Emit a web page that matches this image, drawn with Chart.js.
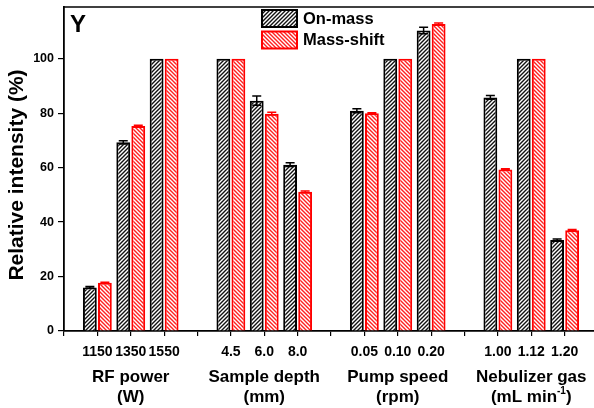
<!DOCTYPE html>
<html>
<head>
<meta charset="utf-8">
<script src="https://cdn.jsdelivr.net/npm/chart.js@4.4.1/dist/chart.umd.min.js"></script>
<style>
  html, body { margin: 0; padding: 0; background: #fff; overflow: hidden; }
  #wrap { width: 600px; height: 408px; }
</style>
</head>
<body>
<div id="wrap"><canvas id="c" width="600" height="408"></canvas></div>
<script>
// Categories (blank slots separate the parameter groups)
const categories = ['', '1150', '1350', '1550', '', '4.5', '6.0', '8.0', '', '0.05', '0.10', '0.20', '', '1.00', '1.12', '1.20', ''];

// Relative intensity (%) per setting
const onMass      = [null, 16.0, 69.3, 100, null, 100, 84.6, 61.1, null, 80.9, 100, 110.4, null, 85.8, 100, 33.4, null];
const massShift   = [null, 17.7, 75.3, 100, null, 100, 79.8, 51.1, null, 80.0, 100, 112.8, null, 59.3, 100, 37.0, null];
const onMassErr   = [null, 0.3, 0.6, 0, null, 0, 1.7, 0.7, null, 0.7, 0, 1.2, null, 0.7, 0, 0.4, null];
const massShiftErr= [null, 0.2, 0.3, 0, null, 0, 0.5, 0.3, null, 0.2, 0, 0.3, null, 0.3, 0, 0.3, null];

// Parameter groups: label lines and the category index they are centred on
const groupNames  = ['RF power', 'Sample depth', 'Pump speed', 'Nebulizer gas'];
const groupUnits  = ['(W)', '(mm)', '(rpm)', '(mL min'];
const groupCenter = [2, 6, 10, 14];

const yTicks = [0, 20, 40, 60, 80, 100];
const yTitle = 'Relative intensity (%)';

function hatch(color, forward) {
  const s = 4;
  const c = document.createElement('canvas');
  c.width = s; c.height = s;
  const g = c.getContext('2d');
  g.fillStyle = '#fff';
  g.fillRect(0, 0, s, s);
  g.strokeStyle = color;
  g.lineWidth = 1.4;
  g.beginPath();
  if (forward) {
    g.moveTo(-1, s + 1); g.lineTo(s + 1, -1);
    g.moveTo(-1, 1); g.lineTo(1, -1);
    g.moveTo(s - 1, s + 1); g.lineTo(s + 1, s - 1);
  } else {
    g.moveTo(-1, -1); g.lineTo(s + 1, s + 1);
    g.moveTo(s - 1, -1); g.lineTo(s + 1, 1);
    g.moveTo(-1, s - 1); g.lineTo(1, s + 1);
  }
  g.stroke();
  return document.getElementById('c').getContext('2d').createPattern(c, 'repeat');
}

const blackHatch = hatch('#111', true);
const redHatch = hatch('#ff2020', false);

const FONT = '"Liberation Sans", Arial, sans-serif';

const decorations = {
  id: 'decorations',
  afterDatasetsDraw(chart) {
    const ctx = chart.ctx;
    const area = chart.chartArea;
    const xs = chart.scales.x, ys = chart.scales.y;

    // error bars
    const errs = [onMassErr, massShiftErr];
    const vals = [onMass, massShift];
    const cols = ['#000', '#ff0000'];
    chart.data.datasets.forEach((ds, di) => {
      const meta = chart.getDatasetMeta(di);
      meta.data.forEach((bar, i) => {
        const v = vals[di][i], e = errs[di][i];
        if (v == null || !e) return;
        const yT = ys.getPixelForValue(v + e), yB = ys.getPixelForValue(v - e);
        ctx.save();
        ctx.strokeStyle = cols[di];
        ctx.lineWidth = 1.5;
        ctx.beginPath();
        ctx.moveTo(bar.x, yT); ctx.lineTo(bar.x, yB);
        ctx.moveTo(bar.x - 4.5, yT); ctx.lineTo(bar.x + 4.5, yT);
        ctx.moveTo(bar.x - 4.5, yB); ctx.lineTo(bar.x + 4.5, yB);
        ctx.stroke();
        ctx.restore();
      });
    });

    ctx.save();
    // top frame line
    ctx.strokeStyle = '#000';
    ctx.lineWidth = 1.5;
    ctx.beginPath();
    ctx.moveTo(area.left, area.top); ctx.lineTo(area.right, area.top);
    ctx.stroke();

    // y-axis title
    ctx.save();
    ctx.translate(17, 175);
    ctx.rotate(-Math.PI / 2);
    ctx.fillStyle = '#000';
    ctx.font = 'bold 21px ' + FONT;
    ctx.textAlign = 'center';
    ctx.textBaseline = 'middle';
    ctx.fillText(yTitle, 0, 0);
    ctx.restore();

    // panel letter
    ctx.fillStyle = '#000';
    ctx.font = 'bold 24px ' + FONT;
    ctx.textAlign = 'left';
    ctx.textBaseline = 'alphabetic';
    ctx.fillText('Y', 70, 32);

    // legend
    const items = [
      { label: chart.data.datasets[0].label, fill: blackHatch, stroke: '#000', y: 9 },
      { label: chart.data.datasets[1].label, fill: redHatch, stroke: '#ff0000', y: 30.5 }
    ];
    items.forEach(it => {
      ctx.fillStyle = it.fill;
      ctx.fillRect(262, it.y + 1, 35, 17);
      ctx.strokeStyle = it.stroke;
      ctx.lineWidth = 2;
      ctx.strokeRect(262, it.y + 1, 35, 17);
      ctx.fillStyle = '#000';
      ctx.font = 'bold 16.5px ' + FONT;
      ctx.textBaseline = 'middle';
      ctx.fillText(it.label, 303, it.y + 10);
    });

    // group labels under the axis
    ctx.textAlign = 'center';
    ctx.textBaseline = 'middle';
    groupNames.forEach((name, k) => {
      const cx = xs.getPixelForValue(groupCenter[k]);
      ctx.font = 'bold 17px ' + FONT;
      ctx.fillText(name, cx, 377);
      if (k === 3) {
        const main = groupUnits[k];
        ctx.font = 'bold 17px ' + FONT;
        const w1 = ctx.measureText(main).width;
        const w3 = ctx.measureText(')').width;
        ctx.font = 'bold 10px ' + FONT;
        const w2 = ctx.measureText('-1').width;
        const total = w1 + w2 + w3;
        let x0 = cx - total / 2;
        ctx.textAlign = 'left';
        ctx.font = 'bold 17px ' + FONT;
        ctx.fillText(main, x0, 397);
        ctx.font = 'bold 10px ' + FONT;
        ctx.fillText('-1', x0 + w1, 391);
        ctx.font = 'bold 17px ' + FONT;
        ctx.fillText(')', x0 + w1 + w2, 397);
        ctx.textAlign = 'center';
      } else {
        ctx.fillText(groupUnits[k], cx, 397);
      }
    });
    ctx.restore();
  }
};

new Chart(document.getElementById('c'), {
  type: 'bar',
  data: {
    labels: categories,
    datasets: [
      { label: 'On-mass', data: onMass, backgroundColor: blackHatch, borderColor: '#000', borderWidth: 2 },
      { label: 'Mass-shift', data: massShift, backgroundColor: redHatch, borderColor: '#ff0000', borderWidth: 2 }
    ]
  },
  options: {
    responsive: false,
    animation: false,
    events: [],
    categoryPercentage: 0.9,
    barPercentage: 0.92,
    layout: { padding: { top: 7, right: 2, left: 0, bottom: 0 } },
    plugins: { legend: { display: false }, tooltip: { enabled: false } },
    scales: {
      x: {
        offset: false,
        grid: { display: true, drawOnChartArea: false, drawTicks: true, tickLength: 5, color: '#000', lineWidth: 1.2, offset: false },
        border: { display: true, color: '#000', width: 1.8 },
        ticks: {
          autoSkip: false, maxRotation: 0, minRotation: 0, padding: 8,
          color: '#000', font: { family: FONT, size: 14, weight: 'bold' }
        },
        afterFit(scale) { scale.height = 77; scale.paddingLeft = 0; scale.paddingRight = 0; }
      },
      y: {
        min: 0, max: 119,
        afterBuildTicks(scale) { scale.ticks = yTicks.map(v => ({ value: v })); },
        grid: { display: true, drawOnChartArea: false, drawTicks: true, tickLength: 6, color: '#000', lineWidth: 1.2 },
        border: { display: true, color: '#000', width: 1.8 },
        ticks: { color: '#000', padding: 4, font: { family: FONT, size: 12.5, weight: 'bold' } },
        afterFit(scale) { scale.width = 64; scale.paddingTop = 0; scale.paddingBottom = 0; }
      }
    }
  },
  plugins: [decorations]
});
</script>
</body>
</html>
